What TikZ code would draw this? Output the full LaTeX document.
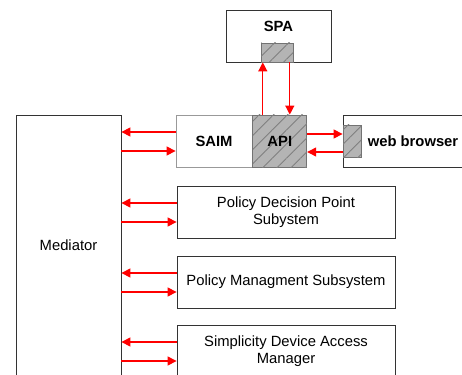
\documentclass[tikz,border=0pt]{standalone}
\usepackage{fontspec}
\setmainfont{Liberation Sans}
\usetikzlibrary{positioning,arrows.meta,patterns.meta}
\definecolor{linkred}{HTML}{FF0000}
\definecolor{hatchgray}{HTML}{B4B4B4}
\newcommand\boxfont{\fontsize{14.8}{17}\selectfont}
\tikzset{
  box/.style={draw=black!80, line width=0.8pt, align=center, inner sep=0pt},
  hatch/.style={draw=black!55, line width=0.8pt, fill=hatchgray, inner sep=0pt,
    postaction={pattern={Lines[angle=45,distance=10pt,line width=0.9pt]}, pattern color=black!50}},
  link/.style={draw=linkred, line width=1.2pt, -{Triangle[length=9pt,width=9pt]}},
  bold/.style={font=\boxfont\bfseries}
}

\begin{document}
\begin{tikzpicture}[x=1pt,y=-1pt,font=\boxfont]
  \useasboundingbox (0,0) rectangle (462,374);
  \clip (0,0) rectangle (462,374);

  % top row: SPA with its interface tab
  \node[box, minimum width=105pt, minimum height=52pt] (spa) at (278.5,36) {};
  \node[bold, anchor=base] (spatext) at ([yshift=-22pt]spa.north) {SPA};
  \node[hatch, minimum width=32pt, minimum height=19pt] (spatab) at (277,52.5) {};

  % SAIM + API, web browser
  \node[box, draw=black!40, minimum width=76pt, minimum height=52pt, bold] (saim) at (214,141) {SAIM};
  \node[hatch, minimum width=54pt, minimum height=52pt, bold, anchor=west] (api) at (saim.east) {API};
  \node[box, minimum width=140pt, minimum height=52pt, bold] (web) at (413,141) {web browser};
  \node[hatch, minimum width=18pt, minimum height=32pt, anchor=west] (webtab) at (web.west) {};

  % mediator and subsystems
  \node[box, minimum width=105pt, minimum height=261pt] (mediator) at (68.5,245.5) {Mediator};
  \node[box, minimum width=218pt, minimum height=52pt] (pdp) at (286,212) {Policy Decision Point\\Subystem};
  \node[box, minimum width=218pt, minimum height=52pt] (pms) at (286,282) {Policy Managment Subsystem};
  \node[box, minimum width=218pt, minimum height=52pt] (sdam) at (286,351) {Simplicity Device Access\\Manager};

  % links
  \draw[link] ([xshift=-17pt]api.north) -- ([xshift=-17pt]api.north |- spatab.south);
  \draw[link] ([xshift=10pt]api.north |- spatab.south) -- ([xshift=10pt]api.north);
  \draw[link] ([yshift=7pt]api.east) -- ([yshift=7pt]api.east -| webtab.west);
  \draw[link] ([yshift=-11pt]webtab.west) -- ([yshift=-11pt]webtab.west -| api.east);

  \foreach \n in {saim,pdp,pms,sdam} {
    \draw[link] ([yshift=9pt]\n.west) -- ([yshift=9pt]\n.west -| mediator.east);
    \draw[link] ([yshift=-10pt]\n.west -| mediator.east) -- ([yshift=-10pt]\n.west);
  }
\end{tikzpicture}
\end{document}
